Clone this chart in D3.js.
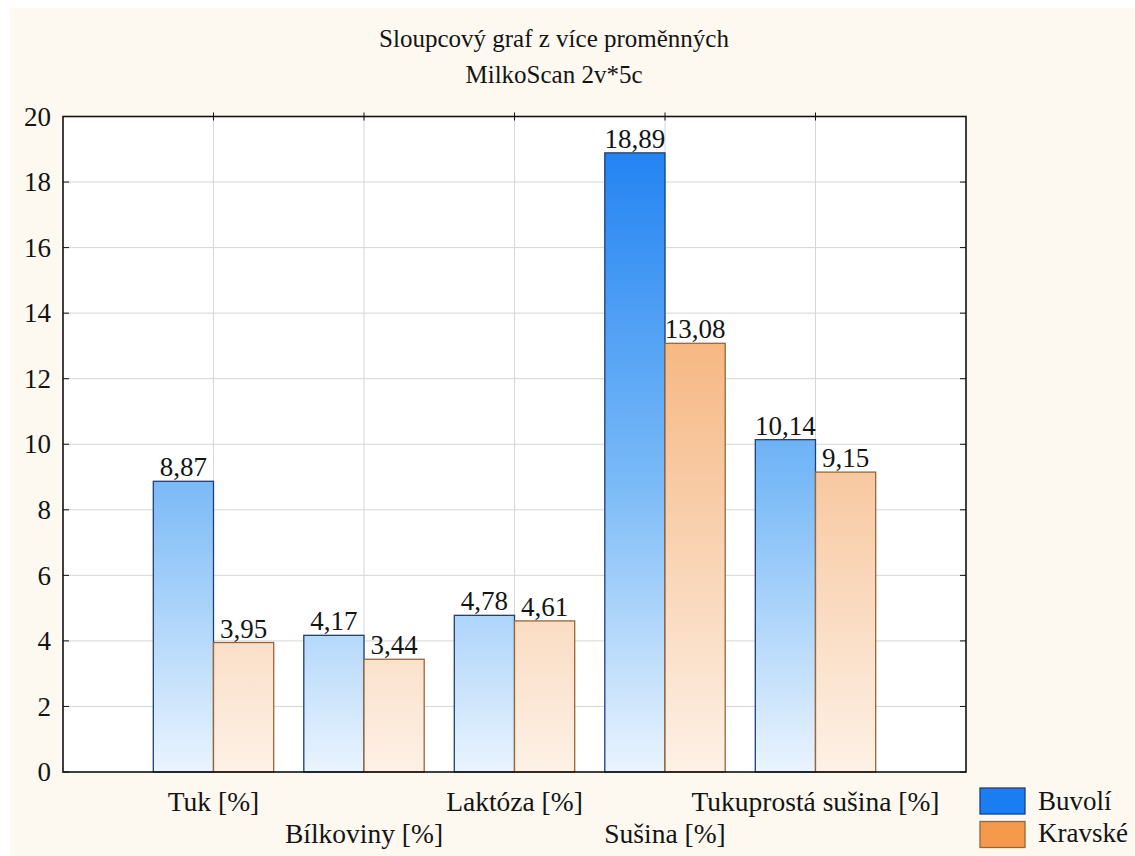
<!DOCTYPE html>
<html>
<head>
<meta charset="utf-8">
<script src="https://cdn.jsdelivr.net/npm/d3@7"></script>
<style>
  html, body { margin: 0; padding: 0; background: #ffffff; }
  svg { display: block; }
</style>
</head>
<body>
<svg id="chart" width="1135" height="856"></svg>
<script>
const titleLines = ["Sloupcový graf z více proměnných", "MilkoScan 2v*5c"];
const categories = ["Tuk [%]", "Bílkoviny [%]", "Laktóza [%]", "Sušina [%]", "Tukuprostá sušina [%]"];
const seriesNames = ["Buvolí", "Kravské"];
const buvoli = [8.87, 4.17, 4.78, 18.89, 10.14];
const kravske = [3.95, 3.44, 4.61, 13.08, 9.15];
const yTicks = [0, 2, 4, 6, 8, 10, 12, 14, 16, 18, 20];

const FONT = "'Liberation Serif', 'Times New Roman', Times, serif";
const svg = d3.select("#chart").style("font-family", FONT);
const W = 1135, H = 856;
const m = { left: 63, right: 966, top: 116.5, bottom: 772 };

// background panel
svg.append("rect").attr("x", 10).attr("y", 8).attr("width", W - 10).attr("height", H - 8).attr("fill", "#fdf9f0");
svg.append("rect").attr("x", m.left).attr("y", m.top).attr("width", m.right - m.left).attr("height", m.bottom - m.top).attr("fill", "#ffffff");

const x = d3.scalePoint().domain(categories).range([m.left, m.right]).padding(1);
const step = x.step();
const xs = d3.scaleBand().domain(seriesNames).range([-0.4 * step, 0.4 * step]).padding(0);
const y = d3.scaleLinear().domain([0, 20]).range([m.bottom, m.top]);

// gradients
const defs = svg.append("defs");
function grad(id, stops) {
  const g = defs.append("linearGradient").attr("id", id)
    .attr("gradientUnits", "userSpaceOnUse")
    .attr("x1", 0).attr("x2", 0).attr("y1", y(0)).attr("y2", y(20));
  stops.forEach(s => g.append("stop").attr("offset", s[0]).attr("stop-color", s[1]));
}
grad("gBlue", [[0, "#eaf4fe"], [0.45, "#78b9f7"], [1, "#1a7ef2"]]);
grad("gOrange", [[0, "#fdf1e6"], [0.45, "#f8c9a2"], [1, "#f49a4e"]]);

function txt(sel) {
  return sel.style("font-family", FONT).attr("fill", "#141414");
}

// grid
const grid = svg.append("g");
yTicks.filter(t => t > 0 && t < 20).forEach(t => {
  grid.append("line").attr("x1", m.left).attr("x2", m.right).attr("y1", y(t)).attr("y2", y(t))
    .attr("stroke", "#d6d6d6").attr("stroke-width", 1);
});
categories.forEach(c => {
  grid.append("line").attr("x1", x(c)).attr("x2", x(c)).attr("y1", m.top).attr("y2", m.bottom)
    .attr("stroke", "#d6d6d6").attr("stroke-width", 1);
});

// bars
const data = [
  { name: seriesNames[0], values: buvoli, fill: "url(#gBlue)", stroke: "#1d3f7a" },
  { name: seriesNames[1], values: kravske, fill: "url(#gOrange)", stroke: "#9a6634" }
];
const fmt = v => d3.format(".2f")(v).replace(".", ",");
data.forEach(s => {
  const g = svg.append("g");
  g.selectAll("rect").data(s.values).join("rect")
    .attr("x", (d, i) => x(categories[i]) + xs(s.name))
    .attr("y", d => y(d))
    .attr("width", xs.bandwidth())
    .attr("height", d => y(0) - y(d))
    .attr("fill", s.fill).attr("stroke", s.stroke).attr("stroke-width", 1.3);
  txt(g.selectAll("text").data(s.values).join("text"))
    .attr("x", (d, i) => x(categories[i]) + xs(s.name) + xs.bandwidth() / 2)
    .attr("y", d => y(d) - 5)
    .attr("text-anchor", "middle")
    .attr("font-size", 27)
    .text(d => fmt(d));
});

// frame
svg.append("rect").attr("x", m.left).attr("y", m.top).attr("width", m.right - m.left).attr("height", m.bottom - m.top)
  .attr("fill", "none").attr("stroke", "#111").attr("stroke-width", 1.6);

// y axis ticks (inner) and labels
const yAxis = svg.append("g");
yTicks.forEach(t => {
  yAxis.append("line").attr("x1", m.left).attr("x2", m.left + 6).attr("y1", y(t)).attr("y2", y(t)).attr("stroke", "#111");
  yAxis.append("line").attr("x1", m.right - 6).attr("x2", m.right).attr("y1", y(t)).attr("y2", y(t)).attr("stroke", "#111");
  txt(yAxis.append("text")).attr("x", 51).attr("y", y(t)).attr("dy", "0.34em")
    .attr("text-anchor", "end").attr("font-size", 27).text(t);
});
categories.forEach(c => {
  svg.append("line").attr("x1", x(c)).attr("x2", x(c)).attr("y1", m.top - 4).attr("y2", m.top + 4).attr("stroke", "#111");
});

// x labels (alternating rows)
txt(svg.append("g").selectAll("text").data(categories).join("text"))
  .attr("x", d => x(d))
  .attr("y", (d, i) => i % 2 === 0 ? 811 : 843)
  .attr("text-anchor", "middle")
  .attr("font-size", 27.5)
  .text(d => d);

// title
txt(svg.append("g").selectAll("text").data(titleLines).join("text"))
  .attr("x", 554).attr("y", (d, i) => 47 + i * 35.5)
  .attr("text-anchor", "middle").attr("font-size", 25)
  .text(d => d);

// legend
const legColors = [["#1a7ef2", "#1d3f7a"], ["#f5994c", "#9a6634"]];
const leg = svg.append("g");
seriesNames.forEach((n, i) => {
  leg.append("rect").attr("x", 980).attr("y", 788 + i * 33.5).attr("width", 45).attr("height", 26)
    .attr("fill", legColors[i][0]).attr("stroke", legColors[i][1]).attr("stroke-width", 1.3);
  txt(leg.append("text")).attr("x", 1038).attr("y", 810 + i * 32).attr("font-size", 27).text(n);
});
</script>
</body>
</html>
